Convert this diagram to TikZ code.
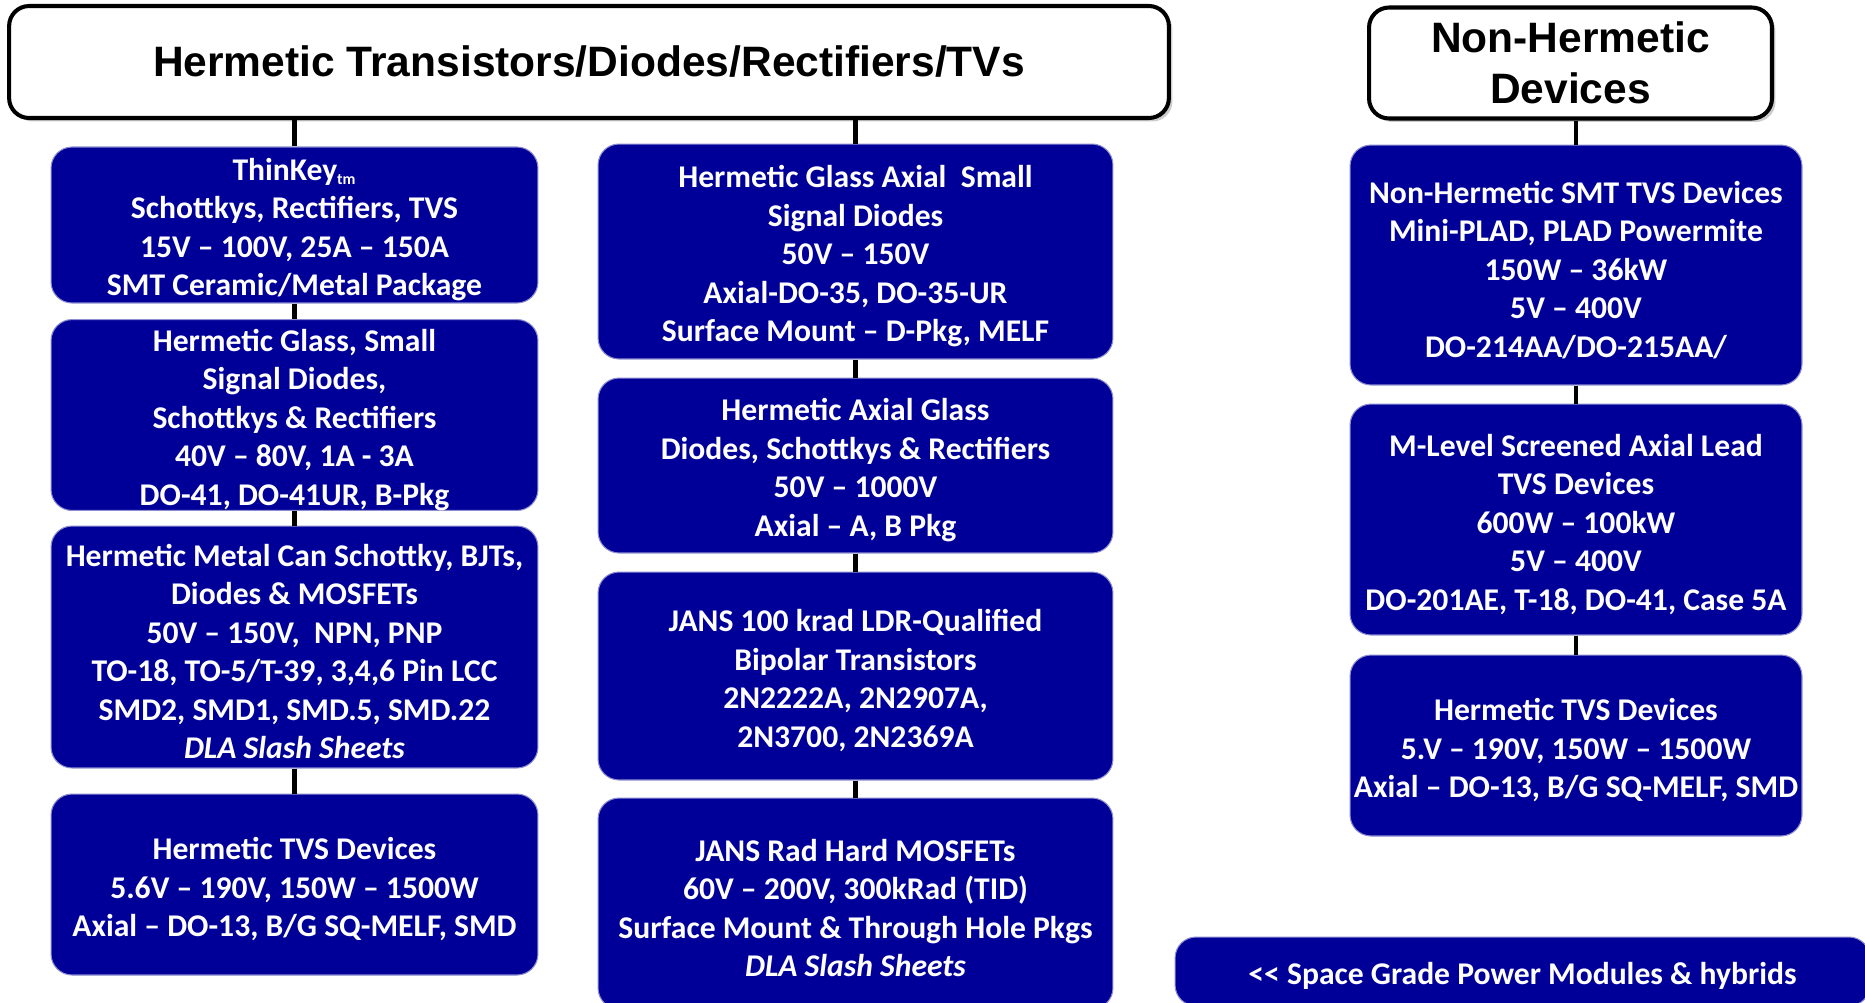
\documentclass[tikz,border=0pt]{standalone}
\usepackage{fontspec}
\setmainfont{Carlito}
\newfontfamily\titlefont{Liberation Sans}
\usetikzlibrary{shadows}
\definecolor{cnavy}{HTML}{000099}
\definecolor{cedge}{HTML}{8C8CD0}
\newcommand{\topstrut}{\rule{0pt}{18pt}}
\tikzset{
  every picture/.style={line width=2.4pt},
  box/.style={draw=cedge, line width=0.6pt, fill=cnavy, text=white, rounded corners=0.42cm, align=center, inner sep=0pt,
    font=\bfseries\fontsize{18}{21.9}\selectfont},
  head/.style={draw=black, line width=2.3pt, fill=white, rounded corners=0.4cm, align=center, inner sep=0pt,
    font=\titlefont\bfseries\fontsize{24.2}{28.8}\selectfont, drop shadow={shadow xshift=0.07cm, shadow yshift=-0.07cm, opacity=0.4}},
  link/.style={draw=black, line width=2.4pt},
}
\begin{document}
\begin{tikzpicture}[x=0.02cm, y=-0.02cm,
  lbox/.style={box, minimum width=9.74cm},
  mbox/.style={box, minimum width=10.3cm},
  rbox/.style={box, minimum width=9.04cm}]
  \useasboundingbox (0,0) rectangle (1865,1002);
  % headers
  \node[head, minimum width=23.2cm, minimum height=2.24cm] (hermetic) at (589,62) {Hermetic Transistors/Diodes/Rectifiers/TVs};
  \node[head, minimum width=8.06cm, minimum height=2.22cm] (nonherm) at (1570.5,63) {Non-Hermetic\\Devices};
  % left column
  \node[lbox, minimum height=3.12cm] (thinkey) at (294.5,225) {\topstrut ThinKey\textsubscript{\fontsize{9}{9}\selectfont tm}\\Schottkys, Rectifiers, TVS\\15V – 100V, 25A – 150A\\SMT Ceramic/Metal Package};
  \node[lbox, minimum height=3.76cm] (glass) at (294.5,415) {\topstrut Hermetic Glass, Small\\Signal Diodes,\\Schottkys \& Rectifiers\\40V – 80V, 1A - 3A\\DO-41, DO-41UR, B-Pkg};
  \node[lbox, minimum height=4.84cm] (metalcan) at (294.5,647) {\topstrut Hermetic Metal Can Schottky, BJTs,\\Diodes \& MOSFETs\\50V – 150V,\ \ NPN, PNP\\TO-18, TO-5/T-39, 3,4,6 Pin LCC\\SMD2, SMD1, SMD.5, SMD.22\\\textit{DLA Slash Sheets}};
  \node[lbox, minimum height=3.62cm] (tvsl) at (294.5,884.5) {\topstrut Hermetic TVS Devices\\5.6V – 190V, 150W – 1500W\\Axial – DO-13, B/G SQ-MELF, SMD};
  % middle column
  \node[mbox, minimum height=4.3cm] (axsmall) at (855.5,251.5) {\topstrut Hermetic Glass Axial\ \ Small\\Signal Diodes\\50V – 150V\\Axial-DO-35, DO-35-UR\\Surface Mount – D-Pkg, MELF};
  \node[mbox, minimum height=3.5cm] (axglass) at (855.5,465.5) {\topstrut Hermetic Axial Glass\\Diodes, Schottkys \& Rectifiers\\50V – 1000V\\Axial – A, B Pkg};
  \node[mbox, minimum height=4.16cm] (bipolar) at (855.5,676) {\topstrut JANS 100 krad LDR-Qualified\\Bipolar Transistors\\2N2222A, 2N2907A,\\2N3700, 2N2369A};
  \node[mbox, minimum height=4.22cm] (mosfet) at (855.5,903.5) {\topstrut JANS Rad Hard MOSFETs\\60V – 200V, 300kRad (TID)\\Surface Mount \& Through Hole Pkgs\\\textit{DLA Slash Sheets}};
  % right column
  \node[rbox, minimum height=4.8cm] (smt) at (1576,265) {\topstrut Non-Hermetic SMT TVS Devices\\Mini-PLAD, PLAD Powermite\\150W – 36kW\\5V – 400V\\DO-214AA/DO-215AA/};
  \node[rbox, minimum height=4.62cm] (mlevel) at (1576,519.5) {\topstrut M-Level Screened Axial Lead\\TVS Devices\\600W – 100kW\\5V – 400V\\DO-201AE, T-18, DO-41, Case 5A};
  \node[rbox, minimum height=3.62cm] (tvsr) at (1576,745.5) {\topstrut Hermetic TVS Devices\\5.V – 190V, 150W – 1500W\\Axial – DO-13, B/G SQ-MELF, SMD};
  \node[box, minimum width=13.9cm, minimum height=1.38cm] (space) at (1522.5,971.5) {\topstrut <{}< Space Grade Power Modules \& hybrids};
  % connectors
  \draw[link] (thinkey.north |- hermetic.south) -- (thinkey.north);
  \draw[link] (thinkey) -- (glass);
  \draw[link] (glass) -- (metalcan);
  \draw[link] (metalcan) -- (tvsl);
  \draw[link] (axsmall.north |- hermetic.south) -- (axsmall.north);
  \draw[link] (axsmall) -- (axglass);
  \draw[link] (axglass) -- (bipolar);
  \draw[link] (bipolar) -- (mosfet);
  \draw[link] (smt.north |- nonherm.south) -- (smt.north);
  \draw[link] (smt) -- (mlevel);
  \draw[link] (mlevel) -- (tvsr);
\end{tikzpicture}
\end{document}
